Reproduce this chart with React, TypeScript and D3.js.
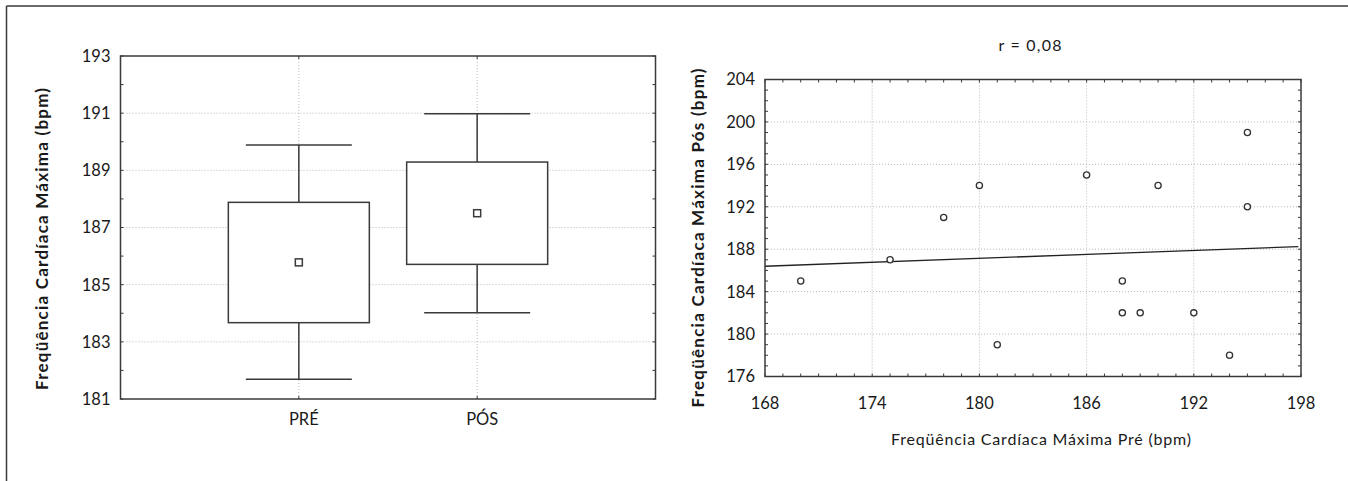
import React from 'react';
import * as d3 from 'd3';

// ---- Box plot (mean, mean±SE box, mean±1.96SE whiskers)
const categories = ['PRÉ', 'PÓS'];
const means = [185.78, 187.5];
const boxLow = [183.67, 185.71];
const boxHigh = [187.88, 189.29];
const whiskerLow = [181.69, 184.02];
const whiskerHigh = [189.89, 190.98];
const boxTicks = [181, 183, 185, 187, 189, 191, 193];

// ---- Scatter
const preHR = [170, 175, 178, 180, 181, 186, 188, 188, 189, 190, 192, 194, 195, 195];
const posHR = [185, 187, 191, 194, 179, 195, 185, 182, 182, 194, 182, 178, 199, 192];
const xTicks = [168, 174, 180, 186, 192, 198];
const yTicks = [176, 180, 184, 188, 192, 196, 200, 204];
const rLabel = 'r = 0,08';

const FONT = 'Lato, "Open Sans", sans-serif';
const INK = '#3a3a3a';
const GRID = '#b8b8b8';
const TXT = '#1a1a1a';

export default function App() {
  // left panel
  const L = { x0: 120.5, x1: 655.5, y0: 56, y1: 399 };
  const ly = d3.scaleLinear().domain([181, 193]).range([L.y1, L.y0]);
  const lx = d3.scalePoint<string>().domain(categories).range([L.x0, L.x1]).padding(1);
  const boxW = 141;
  const capW = 106;
  const lMinor = d3.range(181, 194, 1);

  // right panel
  const R = { x0: 765, x1: 1301, y0: 79.5, y1: 376.5 };
  const rx = d3.scaleLinear().domain([168, 198]).range([R.x0, R.x1]);
  const ry = d3.scaleLinear().domain([176, 204]).range([R.y1, R.y0]);
  const xMinor = d3.range(168, 199, 1);
  const yMinor = d3.range(176, 205, 1);

  const mx = d3.mean(preHR)!;
  const my = d3.mean(posHR)!;
  const sxy = d3.sum(preHR, (v, i) => (v - mx) * (posHR[i] - my));
  const sxx = d3.sum(preHR, (v) => (v - mx) * (v - mx));
  const slope = sxy / sxx;
  const intercept = my - slope * mx;
  const lineGen = d3.line<number>().x((d) => rx(d)).y((d) => ry(intercept + slope * d));
  const fitX = [168, 197.85];

  return (
    <svg width={1348} height={481} style={{ position: 'absolute', left: 0, top: 0, background: '#fff' }} fontFamily={FONT}>
      {/* outer frame (top & left) */}
      <line x1={6.5} y1={6} x2={1348} y2={6} stroke={INK} strokeWidth={1.5} />
      <line x1={6.5} y1={6} x2={6.5} y2={481} stroke={INK} strokeWidth={1.5} />

      {/* ===== LEFT PANEL ===== */}
      {boxTicks.slice(1, -1).map((t) => (
        <line key={'lg' + t} x1={L.x0} x2={L.x1} y1={ly(t)} y2={ly(t)} stroke={GRID} strokeWidth={1} strokeDasharray="1,2" />
      ))}
      {categories.map((c) => (
        <line key={'lvg' + c} x1={lx(c)!} x2={lx(c)!} y1={L.y0} y2={L.y1} stroke={GRID} strokeWidth={1} strokeDasharray="1,2" />
      ))}
      {lMinor.map((t) => (
        <g key={'lm' + t}>
          <line x1={L.x0} x2={L.x0 + 3} y1={ly(t)} y2={ly(t)} stroke={INK} strokeWidth={1} />
          <line x1={L.x1} x2={L.x1 - 3} y1={ly(t)} y2={ly(t)} stroke={INK} strokeWidth={1} />
        </g>
      ))}
      {categories.map((c) => (
        <g key={'lct' + c}>
          <line x1={lx(c)!} x2={lx(c)!} y1={L.y1} y2={L.y1 - 3} stroke={INK} strokeWidth={1} />
          <line x1={lx(c)!} x2={lx(c)!} y1={L.y0} y2={L.y0 + 3} stroke={INK} strokeWidth={1} />
        </g>
      ))}
      {categories.map((c, i) => {
        const cx = lx(c)!;
        return (
          <g key={'box' + c} stroke={INK} strokeWidth={1.5} fill="none">
            <line x1={cx} x2={cx} y1={ly(whiskerHigh[i])} y2={ly(boxHigh[i])} />
            <line x1={cx} x2={cx} y1={ly(boxLow[i])} y2={ly(whiskerLow[i])} />
            <line x1={cx - capW / 2} x2={cx + capW / 2} y1={ly(whiskerHigh[i])} y2={ly(whiskerHigh[i])} />
            <line x1={cx - capW / 2} x2={cx + capW / 2} y1={ly(whiskerLow[i])} y2={ly(whiskerLow[i])} />
            <rect x={cx - boxW / 2} y={ly(boxHigh[i])} width={boxW} height={ly(boxLow[i]) - ly(boxHigh[i])} fill="#fff" />
            <rect x={cx - 3.5} y={ly(means[i]) - 3.5} width={7} height={7} fill="#fff" />
          </g>
        );
      })}
      <rect x={L.x0} y={L.y0} width={L.x1 - L.x0} height={L.y1 - L.y0} fill="none" stroke={INK} strokeWidth={1.5} />
      {boxTicks.map((t) => (
        <text key={'lt' + t} x={L.x0 - 10} y={ly(t)} dy="0.36em" textAnchor="end" fontSize={16.5} fill={TXT}>{t}</text>
      ))}
      {categories.map((c) => (
        <text key={'lc' + c} x={lx(c)! + 5} y={419} dy="0.36em" textAnchor="middle" fontSize={16.5} fill={TXT}>{c}</text>
      ))}
      <text transform={`translate(42,239) rotate(-90)`} textAnchor="middle" dy="0.36em" fontSize={17} fontWeight="bold" fill={TXT} textLength={302} lengthAdjust="spacing">
        Freqüência Cardíaca Máxima (bpm)
      </text>

      {/* ===== RIGHT PANEL ===== */}
      {xTicks.slice(1, -1).map((t) => (
        <line key={'rvg' + t} x1={rx(t)} x2={rx(t)} y1={R.y0} y2={R.y1} stroke={GRID} strokeWidth={1} strokeDasharray="1,2" />
      ))}
      {yTicks.slice(1, -1).map((t) => (
        <line key={'rhg' + t} x1={R.x0} x2={R.x1} y1={ry(t)} y2={ry(t)} stroke={GRID} strokeWidth={1} strokeDasharray="1,2" />
      ))}
      {xMinor.map((t) => (
        <g key={'rxm' + t}>
          <line x1={rx(t)} x2={rx(t)} y1={R.y1} y2={R.y1 - 3} stroke={INK} strokeWidth={1} />
          <line x1={rx(t)} x2={rx(t)} y1={R.y0} y2={R.y0 + 3} stroke={INK} strokeWidth={1} />
        </g>
      ))}
      {yMinor.map((t) => (
        <g key={'rym' + t}>
          <line x1={R.x0} x2={R.x0 + 3} y1={ry(t)} y2={ry(t)} stroke={INK} strokeWidth={1} />
          <line x1={R.x1} x2={R.x1 - 3} y1={ry(t)} y2={ry(t)} stroke={INK} strokeWidth={1} />
        </g>
      ))}
      <path d={lineGen(fitX)!} fill="none" stroke="#222" strokeWidth={1.3} />
      {preHR.map((v, i) => (
        <circle key={'pt' + i} cx={rx(v)} cy={ry(posHR[i])} r={3.1} fill="#fff" stroke="#333" strokeWidth={1.3} />
      ))}
      <rect x={R.x0} y={R.y0} width={R.x1 - R.x0} height={R.y1 - R.y0} fill="none" stroke={INK} strokeWidth={1.5} />
      {yTicks.map((t) => (
        <text key={'ryt' + t} x={R.x0 - 10} y={ry(t)} dy="0.36em" textAnchor="end" fontSize={16.5} fill={TXT}>{t}</text>
      ))}
      {xTicks.map((t) => (
        <text key={'rxt' + t} x={rx(t)} y={403} dy="0.36em" textAnchor="middle" fontSize={16.5} fill={TXT}>{t}</text>
      ))}
      <text x={1041} y={439} dy="0.36em" textAnchor="middle" fontSize={16} fill={TXT} textLength={300} lengthAdjust="spacing">
        Freqüência Cardíaca Máxima Pré (bpm)
      </text>
      <text x={1030} y={45} dy="0.36em" textAnchor="middle" fontSize={16} fill={TXT} textLength={63} lengthAdjust="spacing">
        {rLabel}
      </text>
      <text transform={`translate(698,238) rotate(-90)`} textAnchor="middle" dy="0.36em" fontSize={17} fontWeight="bold" fill={TXT} textLength={339} lengthAdjust="spacing">
        Freqüência Cardíaca Máxima Pós (bpm)
      </text>
    </svg>
  );
}
